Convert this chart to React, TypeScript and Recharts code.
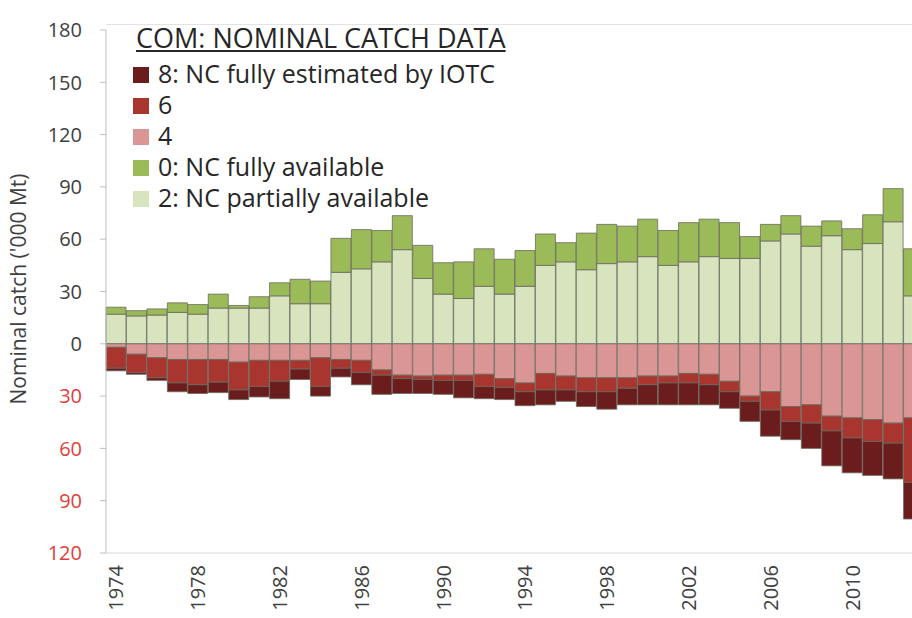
import { Bar, BarChart, XAxis, YAxis } from 'recharts'

const years = [
  1974, 1975, 1976, 1977, 1978, 1979, 1980, 1981, 1982, 1983,
  1984, 1985, 1986, 1987, 1988, 1989, 1990, 1991, 1992, 1993,
  1994, 1995, 1996, 1997, 1998, 1999, 2000, 2001, 2002, 2003,
  2004, 2005, 2006, 2007, 2008, 2009, 2010, 2011, 2012, 2013,
]

// '000 t, positive side (score 2 at the base, score 0 above)
const partiallyAvailable = [
  17, 16, 16.5, 18, 17, 20.5, 20.5, 20.5, 27.5, 23,
  23, 41, 43, 47, 54, 37.5, 28.5, 26, 33, 28.5,
  33, 45, 47, 42.5, 46, 47, 50, 45, 47, 50,
  49, 49, 59, 63, 56, 62, 54, 57.5, 70, 27.5,
]
const fullyAvailable = [
  4, 3, 3.5, 5.5, 5.5, 8, 1.5, 6.5, 7.5, 14,
  13, 19.5, 22.5, 18, 19.5, 19, 18, 21, 21.5, 20,
  20.5, 18, 11, 21, 22.5, 20.5, 21.5, 20, 22.5, 21.5,
  20.5, 12.5, 9.5, 10.5, 11.5, 8.5, 12, 16.5, 19, 27,
]

// negative side (score 4 nearest zero, then 6, then 8)
const score4 = [
  -2, -6, -8, -9, -9, -9, -10.5, -9.5, -9.5, -9.5,
  -8, -9, -9.5, -15, -18, -18.5, -18, -18, -17.5, -20,
  -22.5, -17, -18.5, -19.5, -19.5, -19.5, -18.5, -18.5, -17, -17.5,
  -21.5, -30, -27.5, -36, -35, -41.5, -42.5, -43.5, -45.5, -42.5,
]
const score6 = [
  -12, -10.5, -11.5, -13.5, -14.5, -13, -16, -15, -12, -5,
  -16.5, -5, -7, -3, -2, -2, -3, -3, -7, -5,
  -5, -9.5, -8, -8, -8, -6, -5, -4, -5.5, -6,
  -6, -3, -10.5, -8.5, -10.5, -8.5, -11.5, -12.5, -11.5, -37,
]
const score8 = [
  -1.5, -1, -1.5, -5, -5, -6, -5.5, -6, -10, -6,
  -5.5, -5, -7, -11, -8.5, -8, -8, -10, -7, -7,
  -8, -8.5, -6.5, -8.5, -10, -9.5, -11.5, -12.5, -12.5, -11.5,
  -9.5, -11.5, -15, -10.5, -14.5, -20, -20, -19.5, -20.5, -21,
]

const yTicks = [-120, -90, -60, -30, 0, 30, 60, 90, 120, 150, 180]

const legendItems = [
  { label: '8: NC fully estimated by IOTC', color: '#6b1c1c' },
  { label: '6', color: '#a8362f' },
  { label: '4', color: '#d99694' },
  { label: '0: NC fully available', color: '#9bbb59' },
  { label: '2: NC partially available', color: '#d7e4bd' },
]

const data = years.map((year, i) => ({
  year,
  c2: partiallyAvailable[i],
  c0: fullyAvailable[i],
  c4: score4[i],
  c6: score6[i],
  c8: score8[i],
}))

const font = '"Open Sans", "Noto Sans", sans-serif'
const barStroke = '#6a6a5e'

function YTick({ x, y, payload }: any) {
  const v = payload.value
  return (
    <text x={x} y={y} dy="0.36em" textAnchor="end" fontSize={20} fontFamily={font} fill={v < 0 ? '#e0403c' : '#404040'}>
      {Math.abs(v)}
    </text>
  )
}

function XTick({ x, payload }: any) {
  return (
    <text transform={`translate(${x},565) rotate(-90)`} dy="0.36em" textAnchor="end" fontSize={20} fontFamily={font} fill="#404040">
      {payload.value}
    </text>
  )
}

export default function App() {
  return (
    <div style={{ position: 'fixed', left: 0, top: 0, width: 912, height: 618, overflow: 'hidden', background: '#fff' }}>
      <BarChart
        width={924}
        height={640}
        data={data}
        stackOffset="sign"
        barCategoryGap={0}
        barGap={0}
        margin={{ top: 30, right: 0, bottom: 0, left: 0 }}
      >
        <XAxis
          dataKey="year"
          interval={3}
          height={87}
          tickLine={false}
          axisLine={{ stroke: '#d9d9d9' }}
          tick={<XTick />}
        />
        <YAxis
          width={106}
          domain={[-120, 180]}
          ticks={yTicks}
          interval={0}
          tickSize={6}
          tickMargin={18}
          axisLine={{ stroke: '#bfbfbf' }}
          tickLine={{ stroke: '#bfbfbf' }}
          tick={<YTick />}
        />
        <Bar dataKey="c2" stackId="a" fill="#d7e4bd" stroke={barStroke} strokeWidth={0.8} isAnimationActive={false} />
        <Bar dataKey="c0" stackId="a" fill="#9bbb59" stroke={barStroke} strokeWidth={0.8} isAnimationActive={false} />
        <Bar dataKey="c4" stackId="a" fill="#d99694" stroke={barStroke} strokeWidth={0.8} isAnimationActive={false} />
        <Bar dataKey="c6" stackId="a" fill="#a8362f" stroke={barStroke} strokeWidth={0.8} isAnimationActive={false} />
        <Bar dataKey="c8" stackId="a" fill="#6b1c1c" stroke={barStroke} strokeWidth={0.8} isAnimationActive={false} />
      </BarChart>

      <div style={{ position: 'absolute', left: 106, right: 0, top: 24, height: 1, background: '#e3e3e3' }} />

      <div
        style={{
          position: 'absolute',
          left: 18,
          top: 289,
          transform: 'translate(-50%, -50%) rotate(-90deg)',
          whiteSpace: 'nowrap',
          fontFamily: font,
          fontSize: 21,
          color: '#404040',
        }}
      >
        Nominal catch ('000 Mt)
      </div>

      <div
        style={{
          position: 'absolute',
          left: 136,
          top: 20,
          fontFamily: font,
          fontSize: 27,
          lineHeight: '36px',
          color: '#262626',
          textDecoration: 'underline',
          whiteSpace: 'nowrap',
        }}
      >
        COM: NOMINAL CATCH DATA
      </div>
      {legendItems.map((item, i) => (
        <div
          key={item.label}
          style={{
            position: 'absolute',
            left: 133,
            top: 58 + i * 31,
            height: 31,
            display: 'flex',
            alignItems: 'center',
            fontFamily: font,
            fontSize: 25,
            color: '#262626',
            whiteSpace: 'nowrap',
          }}
        >
          <span style={{ width: 16, height: 16, background: item.color, marginRight: 9, marginTop: 2 }} />
          <span style={{ lineHeight: '31px' }}>{item.label}</span>
        </div>
      ))}
    </div>
  )
}
